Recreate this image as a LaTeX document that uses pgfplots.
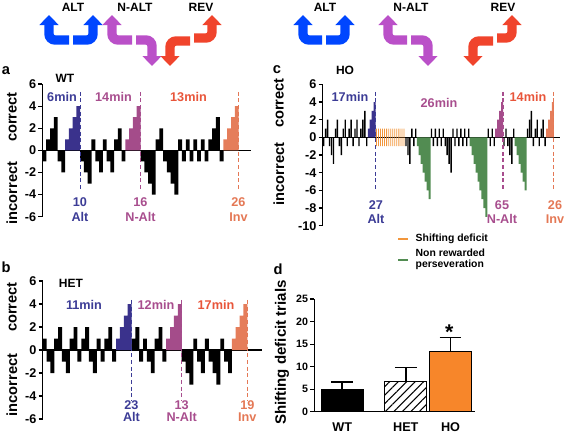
\documentclass[border=0pt]{standalone}
\usepackage{pgfplots}
\pgfplotsset{compat=1.18}
\usepackage{fontspec}
\setmainfont{Liberation Sans}
\usetikzlibrary{arrows.meta,patterns.meta}

\definecolor{altb}{RGB}{58,50,140}
\definecolor{naltp}{RGB}{164,76,138}
\definecolor{invo}{RGB}{229,125,90}
\definecolor{altt}{RGB}{60,60,150}
\definecolor{naltt}{RGB}{168,78,142}
\definecolor{invt}{RGB}{232,85,58}
\definecolor{invl}{RGB}{228,120,85}
\definecolor{shiftc}{RGB}{242,150,60}
\definecolor{persc}{RGB}{82,140,82}
\definecolor{hoc}{RGB}{247,134,42}
\definecolor{arb}{RGB}{0,70,255}
\definecolor{arp}{RGB}{186,80,200}
\definecolor{arr}{RGB}{240,68,44}

\newcommand{\fs}[1]{\bfseries\fontsize{#1}{#1}\selectfont}

\tikzset{dl/.style={dash pattern=on 3pt off 2pt, line width=0.8pt}}
\pgfplotsset{
  trialpanel/.style={
    scale only axis, clip=false,
    axis x line=middle, axis y line=left,
    axis line style={-, line width=0.9pt},
    xtick=\empty,
    tick align=outside, major tick length=3pt,
    tick style={line width=0.9pt, black},
    hide obscured y ticks=false,
    yticklabel style={font=\fs{9.5}, inner sep=1.5pt},
    /pgf/number format/assume math mode=true,
  },
  bk/.style={ybar, bar shift=0pt, fill=black, draw=none, bar width=1.02},
  dbar/.style={ybar, bar shift=0pt, bar width=41.7, draw=black, line width=0.8pt,
    error bars/y dir=plus, error bars/y explicit, error bars/error mark=|,
    error bars/error bar style={line width=1.2pt, black},
    error bars/error mark options={mark size=8.1pt, line width=1.2pt, black}},
}

\begin{document}
\begin{tikzpicture}[x=0.75pt,y=-0.75pt]
\useasboundingbox (0,0) rectangle (565,432);
\coordinate (Pa) at (42.5,216.7);
\coordinate (Pb) at (42.7,419);
\coordinate (Pc) at (322.7,225.7);
\coordinate (Pd) at (314.3,411.7);

% ---------------- top pictograms ----------------
\tikzset{pa/.style={line width=7pt, rounded corners=4.5pt, -{Triangle[width=14pt,length=7.5pt]}}}
\node[font=\fs{9}] at (73,7.5) {ALT};
\node[font=\fs{9}] at (135,7.5) {N-ALT};
\node[font=\fs{9}] at (201,7.5) {REV};
\draw[pa, arb] (69,40) -- (49,40) -- (49,15);
\draw[pa, arb] (73,40) -- (93,40) -- (93,15);
\draw[pa, arp] (132,40) -- (112,40) -- (112,15);
\draw[pa, arp] (136,40) -- (152,40) -- (152,66);
\draw[pa, arr] (190,41) -- (170,41) -- (170,66);
\draw[pa, arr] (194,38) -- (212,38) -- (212,15);

\node[font=\fs{9}] at (325,7.5) {ALT};
\node[font=\fs{9}] at (411,7.5) {N-ALT};
\node[font=\fs{9}] at (503,7.5) {REV};
\draw[pa, arb] (322,40) -- (303,40) -- (303,15);
\draw[pa, arb] (326,40) -- (345,40) -- (345,15);
\draw[pa, arp] (407,40) -- (388,40) -- (388,15);
\draw[pa, arp] (411,40) -- (428,40) -- (428,66);
\draw[pa, arr] (493,41) -- (473,41) -- (473,66);
\draw[pa, arr] (497,38) -- (512,38) -- (512,15);

% ---------------- panel a (WT) ----------------
\begin{axis}[trialpanel, at={(Pa)}, anchor=south west,
  width=156.4pt, height=99.5pt, xmin=0, xmax=55.3, ymin=-6, ymax=6,
  ytick={-6,-4,...,6}, yticklabels={-6,-4,-2,0,2,4,6}]
\addplot[bk] coordinates {(0.5,-1)(1.5,1)(2.5,2)(3.5,3)(4.5,-1)(5.5,-2)
 (10.5,-1)(11.5,-2)(12.5,-3)(13.5,1)(14.5,-1)(15.5,-2)(16.5,1)(17.5,-1)(18.5,-2)(19.5,1)(20.5,2)(21.5,-1)
 (26.5,-1)(27.5,-2)(28.5,-3)(29.5,-4)(30.5,1)(31.5,2)(32.5,-1)(33.5,-2)(34.5,-3)(35.5,-4)(36.5,1)(37.5,-1)
 (38.5,1)(39.5,-1)(40.5,1)(41.5,-1)(42.5,1)(43.5,-1)(44.5,1)(45.5,2)(46.5,3)(47.5,-1)};
\addplot[bk, fill=altb] coordinates {(6.5,1)(7.5,2)(8.5,3)(9.5,4)};
\addplot[bk, fill=naltp] coordinates {(22.5,1)(23.5,2)(24.5,3)(25.5,4)};
\addplot[bk, fill=invo] coordinates {(48.5,1)(49.5,2)(50.5,3)(51.5,4)};
\draw[dl, altt] (axis cs:10,5.3) -- (axis cs:10,-3.55);
\draw[dl, naltt] (axis cs:26,5.3) -- (axis cs:26,-3.55);
\draw[dl, invl] (axis cs:52,5.3) -- (axis cs:52,-3.55);
\end{axis}
\node[font=\fs{11}] at (6,71) {a};
\node[font=\fs{9}] at (65,78) {WT};
\node[font=\fs{9.5}, altt] at (62,96.5) {6min};
\node[font=\fs{9.5}, naltt] at (113.5,96.5) {14min};
\node[font=\fs{9.5}, invt] at (188.5,96.5) {13min};
\node[font=\fs{9.5}, altt] at (80,202) {10};
\node[font=\fs{9.5}, altt] at (80,217) {Alt};
\node[font=\fs{9.5}, naltt] at (140.5,202) {16};
\node[font=\fs{9.5}, naltt] at (140.5,217) {N-Alt};
\node[font=\fs{9.5}, invl] at (238.5,202) {26};
\node[font=\fs{9.5}, invl] at (238.5,217) {Inv};
\node[font=\fs{11}, rotate=90] at (12,117) {correct};
\node[font=\fs{11}, rotate=90] at (12,193) {incorrect};

% ---------------- panel b (HET) ----------------
\begin{axis}[trialpanel, at={(Pb)}, anchor=south west,
  width=164.5pt, height=103.5pt, xmin=0, xmax=56.8, ymin=-6, ymax=6,
  ytick={-6,-4,...,6}, yticklabels={-6,-4,-2,0,2,4,6}]
\addplot[bk] coordinates {(0.5,1)(1.5,-1)(2.5,-2)(3.5,1)(4.5,2)(5.5,-1)(6.5,-2)(7.5,1)(8.5,2)(9.5,-1)
 (10.5,1)(11.5,2)(12.5,-1)(13.5,-2)(14.5,1)(15.5,-1)(16.5,1)(17.5,2)(18.5,-1)
 (23.5,1)(24.5,2)(25.5,-1)(26.5,1)(27.5,-1)(28.5,-2)(29.5,1)(30.5,2)(31.5,-1)
 (36.5,-1)(37.5,-2)(38.5,-3)(39.5,1)(40.5,-1)(41.5,-2)(42.5,1)(43.5,-1)(44.5,-2)(45.5,-3)(46.5,1)(47.5,-1)(48.5,-2)};
\addplot[bk, fill=altb] coordinates {(19.5,1)(20.5,2)(21.5,3)(22.5,4)};
\addplot[bk, fill=naltp] coordinates {(32.5,1)(33.5,2)(34.5,3)(35.5,4)};
\addplot[bk, fill=invo] coordinates {(49.5,1)(50.5,2)(51.5,3)(52.5,4)};
\draw[dl, altt] (axis cs:23,4.35) -- (axis cs:23,-4.35);
\draw[dl, naltt] (axis cs:36,4.35) -- (axis cs:36,-4.35);
\draw[dl, invl] (axis cs:53,4.35) -- (axis cs:53,-4.35);
\end{axis}
\node[font=\fs{11}] at (6,267) {b};
\node[font=\fs{9}] at (71,283) {HET};
\node[font=\fs{9.5}, altt] at (84,305) {11min};
\node[font=\fs{9.5}, naltt] at (156,305) {12min};
\node[font=\fs{9.5}, invt] at (216,305) {17min};
\node[font=\fs{9.5}, altt] at (131.5,405) {23};
\node[font=\fs{9.5}, altt] at (131.5,417) {Alt};
\node[font=\fs{9.5}, naltt] at (181.7,405) {13};
\node[font=\fs{9.5}, naltt] at (181.7,417) {N-Alt};
\node[font=\fs{9.5}, invl] at (247.3,405) {19};
\node[font=\fs{9.5}, invl] at (247.3,417) {Inv};
\node[font=\fs{11}, rotate=90] at (12,307) {correct};
\node[font=\fs{11}, rotate=90] at (12,385) {incorrect};

% ---------------- panel c (HO) ----------------
\begin{axis}[trialpanel, at={(Pc)}, anchor=south west,
  width=178pt, height=106pt, xmin=0, xmax=121.1, ymin=-10, ymax=6,
  ytick={-10,-8,...,6}, yticklabels={-10,-8,-6,-4,-2,0,2,4,6}]
\addplot[bk, bar width=0.7] coordinates {(0.5,-1)(1.5,1)(2.5,2)(3.5,-1)(4.5,-2)(5.5,-3)(6.5,1)(7.5,2)(8.5,-1)(9.5,-2)
 (10.5,1)(11.5,2)(12.5,-1)(13.5,1)(14.5,2)(15.5,-1)(16.5,1)(17.5,2)(18.5,-1)(19.5,1)(20.5,2)(21.5,3)(22.5,-1)
 (42.5,-1)(43.5,-2)(44.5,-3)(45.5,1)(46.5,-1)(47.5,1)
 (55.5,1)(56.5,-1)(57.5,1)(58.5,-1)(59.5,1)(60.5,-1)(61.5,1)
 (62.5,-1)(63.5,-2)(64.5,-3)(65.5,-4)
 (66.5,1)(67.5,-1)(68.5,1)(69.5,-1)(70.5,1)(71.5,-1)(72.5,1)(73.5,-1)(74.5,1)
 (84.5,1)(85.5,-1)(86.5,1)(87.5,-1)
 (92.5,-1)(93.5,1)(94.5,-1)(95.5,-2)(96.5,-3)(97.5,1)
 (104.5,1)(105.5,2)(106.5,3)(107.5,-1)(108.5,1)(109.5,2)(110.5,-1)(111.5,1)(112.5,2)(113.5,-1)};
\addplot[bk, fill=altb] coordinates {(23.5,1)(24.5,2)(25.5,3)(26.5,4)};
\addplot[bk, fill=shiftc, bar width=0.38] coordinates {(27.5,1)(28.5,1)(29.5,1)(30.5,1)(31.5,1)(32.5,1)(33.5,1)(34.5,1)(35.5,1)(36.5,1)(37.5,1)(38.5,1)(39.5,1)(40.5,1)(41.5,1)};
\addplot[bk, fill=shiftc, bar width=0.38] coordinates {(27.5,-1)(28.5,-1)(29.5,-1)(30.5,-1)(31.5,-1)(32.5,-1)(33.5,-1)(34.5,-1)(35.5,-1)(36.5,-1)(37.5,-1)(38.5,-1)(39.5,-1)(40.5,-1)(41.5,-1)};
\addplot[bk, fill=persc] coordinates {(48.5,-1)(49.5,-2)(50.5,-3)(51.5,-4)(52.5,-5)(53.5,-6)(54.5,-7)
 (75.5,-1)(76.5,-2)(77.5,-3)(78.5,-4)(79.5,-5)(80.5,-6)(81.5,-7)(82.5,-8)(83.5,-9)
 (98.5,-1)(99.5,-2)(100.5,-3)(101.5,-4)(102.5,-5)(103.5,-6)};
\addplot[bk, fill=naltp] coordinates {(88.5,1)(89.5,2)(90.5,3)(91.5,4)};
\addplot[bk, fill=invo] coordinates {(114.5,1)(115.5,2)(116.5,3)(117.5,4)};
\draw[dl, altt] (axis cs:27,5.16) -- (axis cs:27,-6.15);
\draw[dl, naltt] (axis cs:92,5.16) -- (axis cs:92,-6.15);
\draw[dl, invl] (axis cs:118,5.16) -- (axis cs:118,-6.15);
\end{axis}
\node[font=\fs{11}] at (277,70) {c};
\node[font=\fs{9}] at (345,70) {HO};
\node[font=\fs{9.5}, altt] at (350,96.7) {17min};
\node[font=\fs{9.5}, naltt] at (439,103.3) {26min};
\node[font=\fs{9.5}, invt] at (528,96.7) {14min};
\node[font=\fs{9.5}, altt] at (376,205) {27};
\node[font=\fs{9.5}, altt] at (376,219) {Alt};
\node[font=\fs{9.5}, naltt] at (502,205) {65};
\node[font=\fs{9.5}, naltt] at (502,219) {N-Alt};
\node[font=\fs{9.5}, invl] at (555,205) {26};
\node[font=\fs{9.5}, invl] at (555,219) {Inv};
\node[font=\fs{11}, rotate=90] at (279,103) {correct};
\node[font=\fs{11}, rotate=90] at (279,174) {incorrect};
% legend
\draw[shiftc, line width=1.5pt] (398,239) -- (408,239);
\node[font=\fs{7.8}, anchor=west] at (411,239) {Shifting deficit};
\draw[persc, line width=1.5pt] (398,260) -- (408,260);
\node[font=\fs{7.8}, anchor=west, align=left] at (411,259.5) {Non rewarded\\[0.3pt]perseveration};

% ---------------- panel d ----------------
\begin{axis}[scale only axis, clip=false, at={(Pd)}, anchor=south west,
  width=120.5pt, height=84.5pt, xmin=0, xmax=160.7, ymin=0, ymax=25,
  axis x line=bottom, axis y line=left, axis line style={-, line width=0.9pt},
  hide obscured x ticks=false, hide obscured y ticks=false,
  tick align=outside, major tick length=3pt, tick style={line width=0.9pt, black},
  ytick={0,5,10,15,20,25}, yticklabels={0,5,10,15,20,25},
  yticklabel style={font=\fs{8}, inner sep=1.5pt},
  xtick=\empty,
  /pgf/number format/assume math mode=true]
\addplot[dbar, fill=black] coordinates {(27.9,4.9) +- (0,1.75)};
\addplot[dbar, fill=white, pattern={Lines[angle=45,distance=4.5pt,line width=0.8pt]}]
  coordinates {(91.5,6.8) +- (0,3.0)};
\addplot[dbar, fill=hoc] coordinates {(136.2,13.3) +- (0,3.2)};
\end{axis}
\node[font=\fs{9.5}] at (342.2,426.7) {WT};
\node[font=\fs{9.5}] at (405.8,426.7) {HET};
\node[font=\fs{9.5}] at (450.5,426.7) {HO};
\node[font=\fs{11}] at (278,269) {d};
\node[font=\fs{11.3}, rotate=90] at (282,352.5) {Shifting deficit trials};
\node[font=\fs{16}] at (449.3,332) {*};

\end{tikzpicture}
\end{document}
